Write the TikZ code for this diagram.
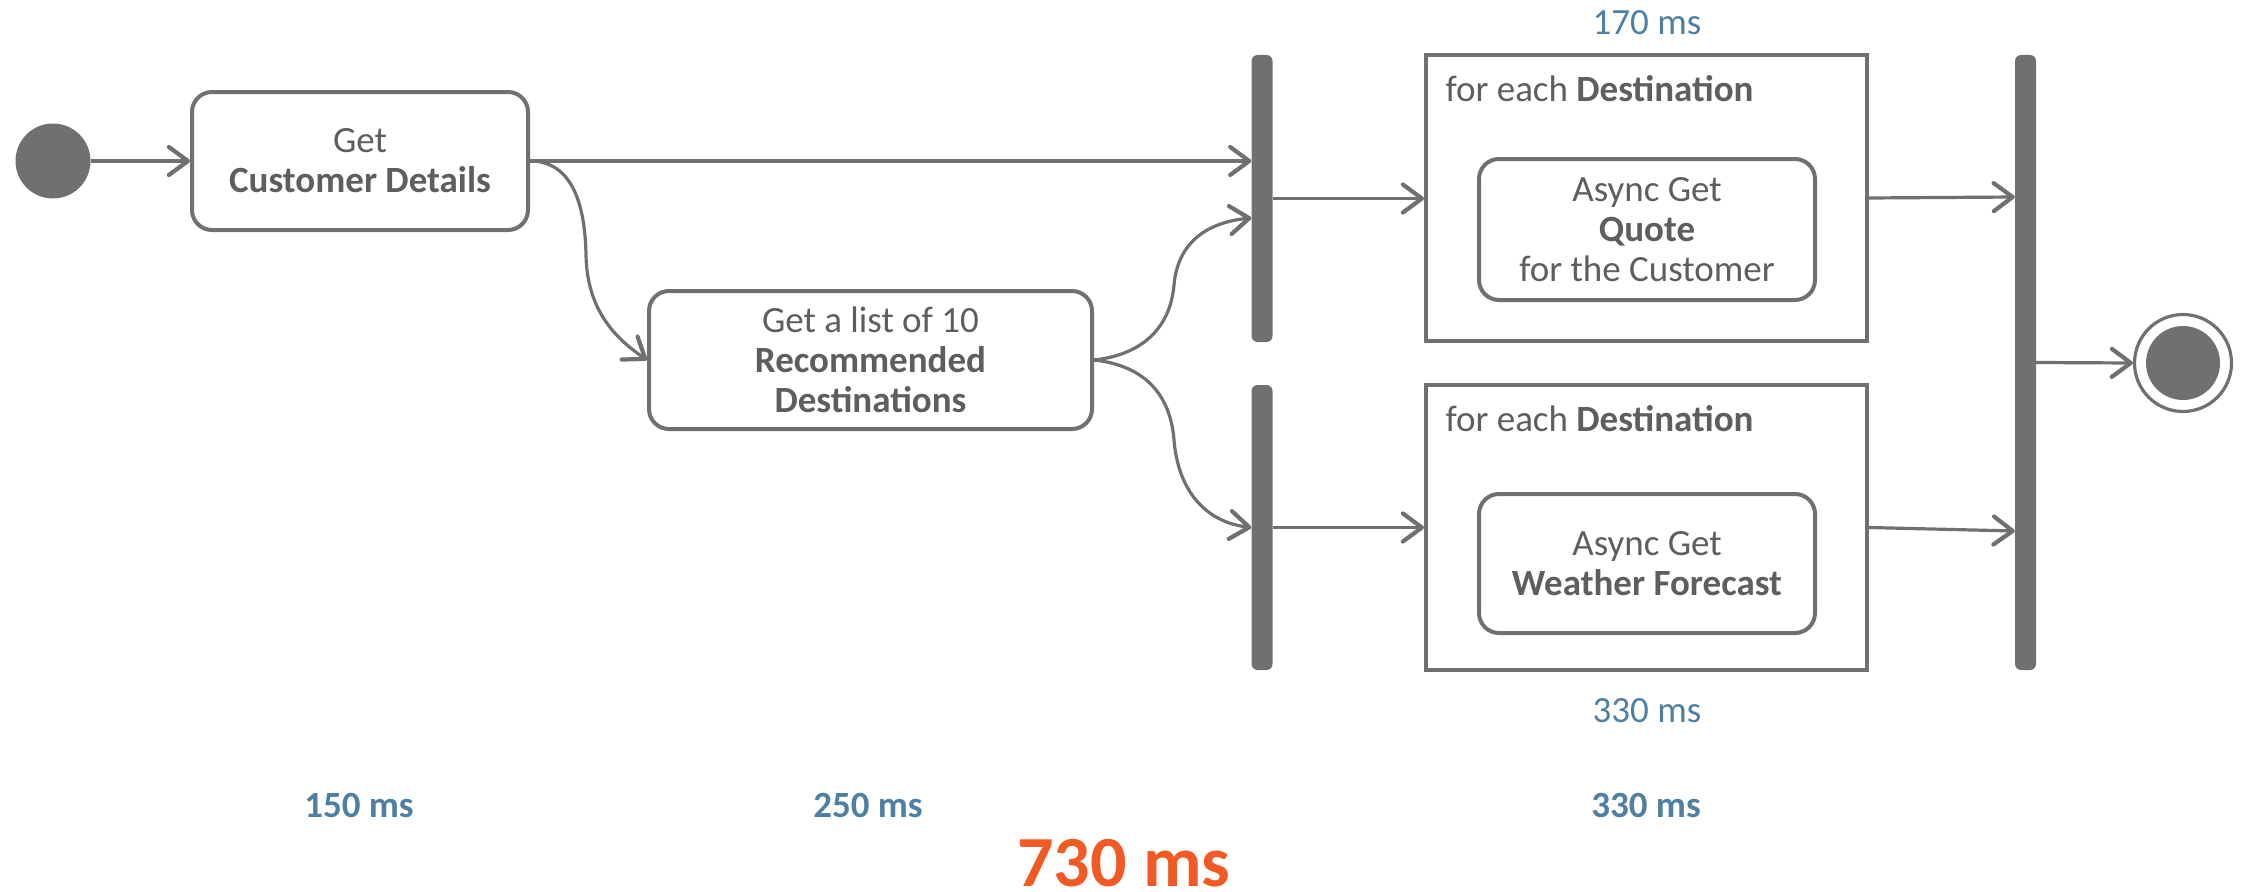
\documentclass[tikz,border=0pt]{standalone}
\usepackage{fontspec}
\setmainfont{Carlito}
\usetikzlibrary{arrows.meta}

\definecolor{ink}{HTML}{707070}
\definecolor{txt}{HTML}{5E5E5E}
\definecolor{tblue}{HTML}{4F7FA3}
\definecolor{torange}{HTML}{F15A24}

\tikzset{
  action/.style={draw=ink, line width=4pt, rounded corners=20pt, fill=white,
    text=txt, align=center, inner sep=0pt},
  frame/.style={draw=ink, line width=4pt, minimum width=441pt, minimum height=285pt, inner sep=0pt},
  bar/.style={fill=ink, rounded corners=6pt, minimum width=21pt, inner sep=0pt},
  flow/.style={draw=ink, line width=3.2pt,
    -{Straight Barb[length=19pt,width=28pt,line width=4.2pt,round]}},
  timing/.style={text=tblue},
}

\begin{document}
\begin{tikzpicture}[x=1pt, y=-1pt, font=\fontsize{37}{40}\selectfont]
\useasboundingbox (0,0) rectangle (2250,891);

% initial node
\node[circle, fill=ink, minimum size=75pt, inner sep=0pt] (start) at (53,161) {};

% actions
\node[action, minimum width=336pt, minimum height=138pt] (b1) at (360,161)
  {Get\\\textbf{Customer Details}};
\node[action, minimum width=443pt, minimum height=138pt] (b2) at (870.5,360)
  {Get a list of 10\\\textbf{Recommended}\\\textbf{Destinations}};

% fork bars
\node[bar, minimum height=287pt] (bar1) at (1262,198.5) {};
\node[bar, minimum height=285pt] (bar2) at (1262,527.5) {};

% expansion regions
\node[frame] (f1) at (1646.5,198) {};
\node[frame] (f2) at (1646.5,527.5) {};
\node[anchor=west, text=txt] (l1) at (1442,89) {for each \textbf{Destination}};
\node[anchor=west, text=txt] (l2) at (1442,419) {for each \textbf{Destination}};
\node[action, minimum width=336pt, minimum height=141pt] (q) at (1647,229.5)
  {Async Get\\\textbf{Quote}\\for the Customer};
\node[action, minimum width=336pt, minimum height=139pt] (w) at (1647,563.5)
  {Async Get\\\textbf{Weather Forecast}};

% join bar
\node[bar, minimum height=615pt] (join) at (2025.5,362.5) {};

% final node
\node[circle, draw=ink, line width=3.2pt, minimum size=97pt, inner sep=0pt] (end) at (2183,363) {};
\node[circle, fill=ink, minimum size=74pt, inner sep=0pt] (endin) at (end) {};

% control flow
\draw[flow] (start) -- (b1);
\draw[flow] (b1.east) -- (bar1.west |- b1.east);
\draw[flow] (b1.east) .. controls (570,161) and (585,200) .. (586,255)
  .. controls (587,310) and (615,338) .. (b2.west);
\draw[flow] (b2.east) .. controls (1140,355) and (1170,330) .. (1174,285)
  .. controls (1178,240) and (1210,222) .. ([yshift=-19.5pt]bar1.west);
\draw[flow] (b2.east) .. controls (1140,365) and (1170,390) .. (1174,440)
  .. controls (1178,490) and (1205,522) .. (bar2.west);
\draw[flow] (bar1.east) -- (f1.west |- bar1.east);
\draw[flow] (bar2.east) -- (f2.west |- bar2.east);
\draw[flow] (f1.east) -- ([yshift=165.5pt]join.west);
\draw[flow] (f2.east) -- ([yshift=-168.5pt]join.west);
\draw[flow] (join.east) -- (end.west);

% timings
\node[timing] (t170) at (1647,23) {170 ms};
\node[timing] (t330a) at (1647,711) {330 ms};
\node[timing, font=\fontsize{37}{40}\selectfont\bfseries] (t150) at (359,805) {150 ms};
\node[timing, font=\fontsize{37}{40}\selectfont\bfseries] (t250) at (868,805) {250 ms};
\node[timing, font=\fontsize{37}{40}\selectfont\bfseries] (t330b) at (1646,805) {330 ms};
\node[text=torange, inner sep=0pt, anchor=base, font=\fontsize{72}{80}\selectfont\bfseries] (total) at (1124,886) {730 ms};
\end{tikzpicture}
\end{document}
